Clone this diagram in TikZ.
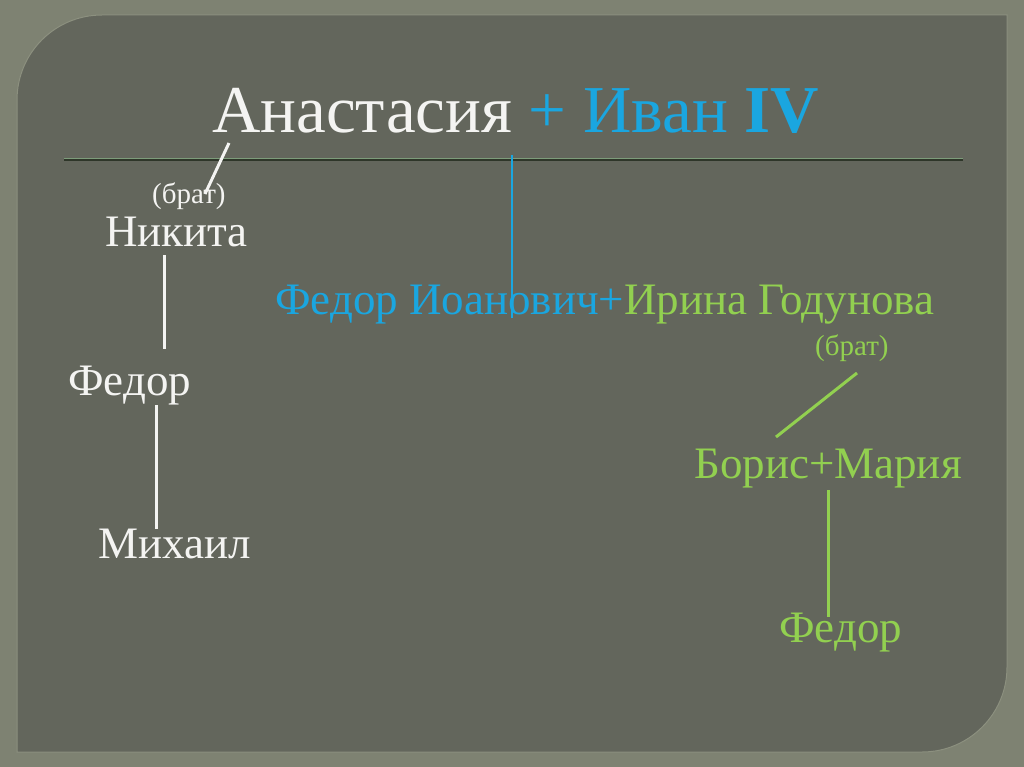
\documentclass[tikz,border=0pt]{standalone}
\usepackage{fontspec}
\setmainfont{Liberation Serif}
\definecolor{outerbg}{HTML}{7E8272}
\definecolor{panelbg}{HTML}{63665C}
\definecolor{paneledge}{HTML}{8C907F}
\definecolor{txtwhite}{HTML}{F4F4F2}
\definecolor{txtblue}{HTML}{1AA6E0}
\definecolor{txtgreen}{HTML}{92D050}
\definecolor{rulegreen}{HTML}{7D9C7A}
\definecolor{ruledark}{HTML}{2E3629}
\tikzset{
  lbl/.style={anchor=base west, inner sep=0pt, font=\fontsize{45}{48}\selectfont},
  small/.style={anchor=base west, inner sep=0pt, font=\fontsize{29}{32}\selectfont},
  wline/.style={draw=txtwhite, line width=3pt},
  bline/.style={draw=txtblue, line width=2.5pt},
  gline/.style={draw=txtgreen, line width=3pt},
}
\begin{document}
\begin{tikzpicture}[x=1pt,y=-1pt]
\useasboundingbox (0,0) rectangle (1024,767);
\fill[outerbg] (0,0) rectangle (1024,767);
% panel
\fill[panelbg, draw=paneledge, line width=1pt] (17,752) -- (17,100) .. controls (17,53) and (55,15) .. (102,15) -- (1007,15) -- (1007,667) .. controls (1007,714) and (969,752) .. (922,752) -- cycle;
% title rule
\draw[rulegreen, line width=1.5pt] (64,158.3) -- (963,158.3);
\draw[ruledark, line width=1.5pt] (64,159.8) -- (963,159.8);
% title
\node (title) [anchor=base west, inner sep=0pt, font=\fontsize{67}{70}\selectfont] at (212,133) {\textcolor{txtwhite}{Анастасия} \textcolor{txtblue}{+ Иван \textbf{IV}}};
% left branch
\node (brat1) [small, text=txtwhite] at (152,204) {(брат)};
\node (nikita) [lbl, text=txtwhite] at (105,246) {Никита};
\node (fedor1) [lbl, text=txtwhite] at (68,395) {Федор};
\node (mikhail) [lbl, text=txtwhite] at (98,558) {Михаил};
% middle
\node (fi) [lbl] at (275,314) {\textcolor{txtblue}{Федор Иоанович+}\textcolor{txtgreen}{Ирина Годунова}};
% right branch
\node (brat2) [small, text=txtgreen] at (815,355) {(брат)};
\node (boris) [lbl, text=txtgreen] at (694,478) {Борис+Мария};
\node (fedor2) [lbl, text=txtgreen] at (779,642) {Федор};
% connector end points
\coordinate (c1a) at (229,143);
\coordinate (c1b) at (205,194);
\coordinate (c2a) at (164,255);
\coordinate (c2b) at (164,349);
\coordinate (c3a) at (156,405);
\coordinate (c3b) at (156,529);
\coordinate (c4a) at (512,155);
\coordinate (c4b) at (512,318);
\coordinate (c5a) at (857,373);
\coordinate (c5b) at (776,437);
\coordinate (c6a) at (828,490);
\coordinate (c6b) at (828,617);
\draw[wline] (c1a) -- (c1b);
\draw[wline] (c2a) -- (c2b);
\draw[wline] (c3a) -- (c3b);
\draw[bline] (c4a) -- (c4b);
\draw[gline] (c5a) -- (c5b);
\draw[gline] (c6a) -- (c6b);
\end{tikzpicture}
\end{document}
